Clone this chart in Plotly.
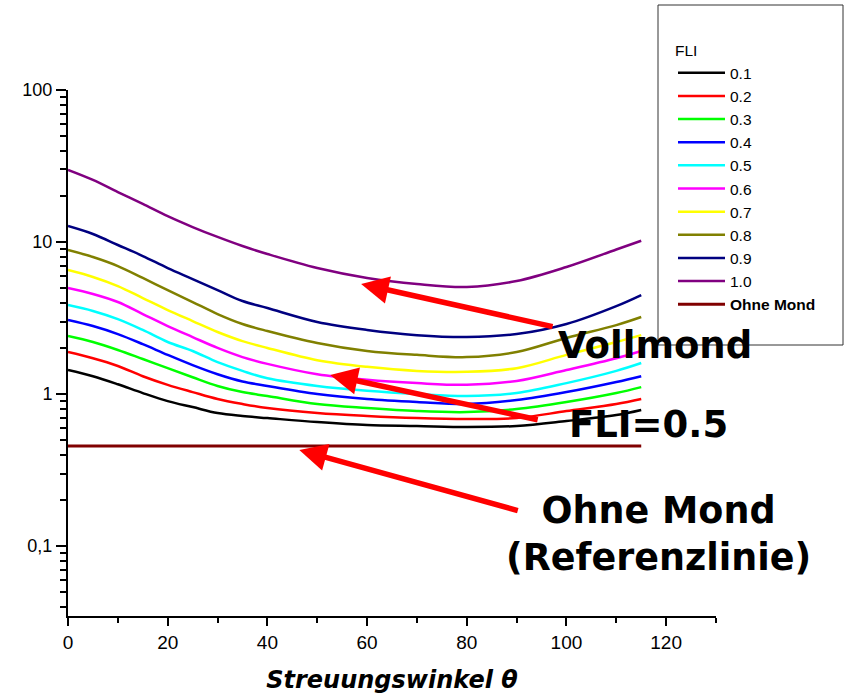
import plotly.graph_objects as go

angles = [0, 5, 10, 15, 20, 25, 30, 35, 40, 50, 60, 70, 80, 90, 100, 110, 115]

fli_labels = ["0.1", "0.2", "0.3", "0.4", "0.5", "0.6", "0.7", "0.8", "0.9", "1.0"]
fli_colors = ["#000000", "#FF0000", "#00FF00", "#0000FF", "#00FFFF",
              "#FF00FF", "#FFFF00", "#808000", "#000080", "#800080"]

fli_01 = [1.44, 1.31, 1.16, 1.015, 0.899, 0.821, 0.750, 0.717, 0.695, 0.654, 0.625, 0.616, 0.607, 0.616, 0.664, 0.727, 0.785]
fli_02 = [1.89, 1.72, 1.53, 1.31, 1.15, 1.03, 0.927, 0.860, 0.809, 0.750, 0.717, 0.695, 0.685, 0.695, 0.773, 0.860, 0.927]
fli_03 = [2.41, 2.20, 1.95, 1.70, 1.48, 1.29, 1.13, 1.03, 0.970, 0.860, 0.809, 0.773, 0.761, 0.797, 0.886, 1.015, 1.11]
fli_04 = [3.07, 2.80, 2.48, 2.13, 1.81, 1.55, 1.35, 1.21, 1.13, 1.00, 0.927, 0.886, 0.860, 0.913, 1.03, 1.20, 1.31]
fli_05 = [3.85, 3.52, 3.11, 2.64, 2.20, 1.92, 1.62, 1.42, 1.27, 1.13, 1.05, 1.00, 0.970, 1.015, 1.18, 1.42, 1.60]
fli_06 = [4.98, 4.55, 4.03, 3.36, 2.80, 2.37, 2.01, 1.75, 1.58, 1.35, 1.24, 1.18, 1.15, 1.22, 1.44, 1.72, 1.92]
fli_07 = [6.54, 5.89, 5.13, 4.28, 3.57, 3.02, 2.56, 2.23, 2.01, 1.67, 1.51, 1.42, 1.40, 1.48, 1.81, 2.20, 2.44]
fli_08 = [8.86, 7.97, 6.95, 5.80, 4.83, 4.03, 3.36, 2.89, 2.60, 2.17, 1.92, 1.81, 1.75, 1.89, 2.34, 2.84, 3.21]
fli_09 = [12.74, 11.29, 9.56, 8.09, 6.74, 5.71, 4.83, 4.09, 3.68, 2.98, 2.64, 2.44, 2.37, 2.48, 2.89, 3.79, 4.48]
fli_10 = [29.8, 25.6, 21.3, 17.8, 14.8, 12.55, 10.8, 9.41, 8.34, 6.74, 5.80, 5.29, 5.06, 5.54, 6.85, 8.93, 10.2]

fli_series = [fli_01, fli_02, fli_03, fli_04, fli_05, fli_06, fli_07, fli_08, fli_09, fli_10]

ref_x = [0, 115]
ref_y = [0.455, 0.455]

y_major = [0.1, 1, 10, 100]
y_major_text = ["0,1", "1", "10", "100"]
y_minor = [0.04, 0.05, 0.06, 0.07, 0.08, 0.09,
           0.2, 0.3, 0.4, 0.5, 0.6, 0.7, 0.8, 0.9,
           2, 3, 4, 5, 6, 7, 8, 9,
           20, 30, 40, 50, 60, 70, 80, 90]

W, H = 844, 694
L, R, T, B = 68, 128, 90, 78
PW, PH = W - L - R, H - T - B


def px(xp):
    return (xp - L) / PW


def py(yp):
    return (H - B - yp) / PH


fig = go.Figure()
for lab, col, vals in zip(fli_labels, fli_colors, fli_series):
    fig.add_trace(go.Scatter(x=angles, y=vals, mode="lines", name=lab,
                             line=dict(color=col, width=2.5, shape="spline",
                                       smoothing=1.0)))
fig.add_trace(go.Scatter(x=ref_x, y=ref_y, mode="lines", name="<b>Ohne Mond</b>",
                         line=dict(color="#800000", width=3)))

ann_font = dict(family="DejaVu Sans", size=37, color="black")
annotations = [
    dict(text="<b>Vollmond</b>", xref="paper", yref="paper", x=px(655), y=py(345),
         showarrow=False, font=ann_font, xanchor="center", yanchor="middle"),
    dict(text="<b>FLI=0.5</b>", xref="paper", yref="paper", x=px(648), y=py(424),
         showarrow=False, font=ann_font, xanchor="center", yanchor="middle"),
    dict(text="<b>Ohne Mond</b><br><b>(Referenzlinie)</b>", xref="paper", yref="paper",
         x=px(658), y=py(534), showarrow=False,
         font=dict(family="DejaVu Sans", size=36.5, color="black"),
         xanchor="center", yanchor="middle", align="center"),
]
arrows = [
    (58.8, 0.724, 193, 43),
    (52.6, 0.125, 209, 45),
    (46.4, -0.368, 220, 61),
]
for (hx, hy, dx, dy) in arrows:
    annotations.append(dict(x=hx, y=hy, xref="x", yref="y", ax=dx, ay=dy,
                            text="", showarrow=True, arrowhead=2, arrowsize=1,
                            arrowwidth=5.5, arrowcolor="#FF0000", standoff=0))

fig.update_layout(
    width=W, height=H,
    margin=dict(l=L, r=R, t=T, b=B),
    paper_bgcolor="white", plot_bgcolor="white",
    font=dict(family="Liberation Sans, Arial", color="black", size=16),
    showlegend=True,
    legend=dict(x=px(673), y=py(36), xanchor="left", yanchor="top",
                bgcolor="rgba(0,0,0,0)", borderwidth=0,
                font=dict(family="Liberation Sans, Arial", size=15.5, color="black"),
                title=dict(text="FLI", font=dict(size=15.5)),
                tracegroupgap=0, itemwidth=47),
    annotations=annotations,
    shapes=[dict(type="rect", xref="paper", yref="paper",
                 x0=px(658), x1=px(843), y0=py(345), y1=py(5),
                 line=dict(color="#333333", width=1), layer="below")],
)

fig.update_xaxes(range=[0, 130], showgrid=False, zeroline=False, automargin=False,
                 showline=True, linecolor="black", linewidth=2,
                 ticks="outside", ticklen=8, tickwidth=1.5, tickcolor="black",
                 tick0=0, dtick=20,
                 tickfont=dict(size=19),
                 minor=dict(ticks="outside", ticklen=5, tickwidth=1.5,
                            tickcolor="black", dtick=10, showgrid=False),
                 title=dict(text="<b><i>Streuungswinkel θ</i></b>",
                            font=dict(family="DejaVu Sans", size=24),
                            standoff=20))

fig.update_yaxes(type="log", range=[-1.46, 2], showgrid=False, zeroline=False,
                 automargin=False,
                 showline=True, linecolor="black", linewidth=2,
                 ticks="outside", ticklen=10, tickwidth=1.5, tickcolor="black",
                 tickvals=y_major, ticktext=y_major_text,
                 tickfont=dict(size=18),
                 minor=dict(ticks="outside", ticklen=6, tickwidth=1.5,
                            tickcolor="black", tickvals=y_minor, showgrid=False))

fig.write_html("out.html")
